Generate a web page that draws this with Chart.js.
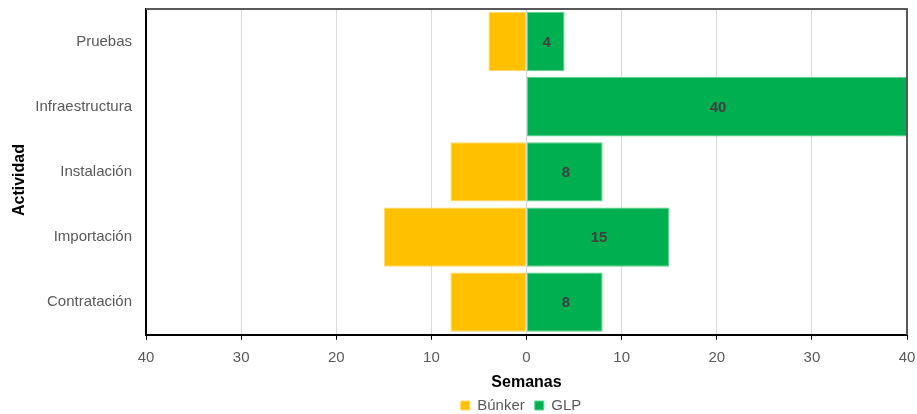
<!DOCTYPE html>
<html>
<head>
<meta charset="utf-8">
<script src="https://cdn.jsdelivr.net/npm/chart.js@4"></script>
<style>
  html, body { margin: 0; padding: 0; background: #fff; }
  #wrap { width: 917px; height: 414px; }
</style>
</head>
<body>
<div id="wrap"><canvas id="chart" width="917" height="414"></canvas></div>
<script>
// Datos
const actividades = ['Pruebas', 'Infraestructura', 'Instalación', 'Importación', 'Contratación'];
const semanasBunker = [4, 0, 8, 15, 8];
const semanasGLP    = [4, 40, 8, 15, 8];
const ticksSemanas  = [-40, -30, -20, -10, 0, 10, 20, 30, 40];

const FONT = "'Liberation Sans', Arial, sans-serif";

// Borde superior/derecho del área de trazado + título vertical
const marco = {
  id: 'marco',
  afterLayout(chart) {
    // leyenda centrada bajo el área de trazado, no bajo todo el lienzo
    const l = chart.legend;
    const d = 521 - (l.left + l.right) / 2;
    l.left += d;
    l.right += d;
  },
  afterDraw(chart) {
    const { ctx, chartArea: a } = chart;
    ctx.save();
    ctx.strokeStyle = '#595959';
    ctx.lineWidth = 2;
    ctx.beginPath();
    ctx.moveTo(a.left, a.top);
    ctx.lineTo(a.right, a.top);
    ctx.lineTo(a.right, a.bottom);
    ctx.stroke();

    ctx.translate(20, 180);
    ctx.rotate(-Math.PI / 2);
    ctx.font = 'bold 16px ' + FONT;
    ctx.fillStyle = '#000';
    ctx.textAlign = 'center';
    ctx.textBaseline = 'middle';
    ctx.fillText('Actividad', 0, 0);
    ctx.restore();
  }
};

// Etiquetas de valor en las barras de GLP
const etiquetas = {
  id: 'etiquetas',
  afterDatasetsDraw(chart) {
    const { ctx } = chart;
    const meta = chart.getDatasetMeta(1);
    ctx.save();
    ctx.font = 'bold 15px ' + FONT;
    ctx.fillStyle = '#404040';
    ctx.textAlign = 'center';
    ctx.textBaseline = 'middle';
    meta.data.forEach((bar, i) => {
      const v = semanasGLP[i];
      if (!v) return;
      ctx.fillText(String(v), (bar.x + bar.base) / 2 + 1, bar.y + 1);
    });
    ctx.restore();
  }
};

new Chart(document.getElementById('chart'), {
  type: 'bar',
  data: {
    labels: actividades,
    datasets: [
      { label: 'Búnker', data: semanasBunker.map(v => -v), backgroundColor: '#FFC000',
        borderColor: '#FFD966', borderWidth: 1, borderSkipped: false },
      { label: 'GLP', data: semanasGLP, backgroundColor: '#00B050',
        borderColor: '#5FD38D', borderWidth: 1, borderSkipped: false },
    ],
  },
  options: {
    indexAxis: 'y',
    responsive: false,
    animation: false,
    devicePixelRatio: 1,
    layout: { padding: { top: 9, right: 0, left: 0, bottom: -9 } },
    datasets: { bar: { barPercentage: 0.91, categoryPercentage: 1 } },
    scales: {
      x: {
        stacked: true,
        min: -40, max: 40,
        afterBuildTicks: s => { s.ticks = ticksSemanas.map(v => ({ value: v })); },
        afterFit: s => { s.paddingRight = 10; },
        ticks: { callback: v => Math.abs(v), color: '#595959', font: { family: FONT, size: 15 }, padding: 9 },
        grid: { color: '#d9d9d9', lineWidth: 1, tickLength: 5, tickColor: '#000' },
        border: { color: '#000', width: 2 },
        title: { display: true, text: 'Semanas', color: '#000', font: { family: FONT, size: 16, weight: 'bold' }, padding: { top: -3, bottom: -4 } },
      },
      y: {
        stacked: true,
        afterFit: s => { s.width = 146; },
        ticks: { color: '#595959', font: { family: FONT, size: 15 }, padding: 0 },
        grid: { display: true, drawOnChartArea: false, tickLength: 14, tickColor: 'rgba(0,0,0,0)', color: 'rgba(0,0,0,0)' },
        border: { color: '#000', width: 2 },
      },
    },
    plugins: {
      legend: {
        position: 'bottom',
        labels: { color: '#595959', font: { family: FONT, size: 15 }, boxWidth: 9, boxHeight: 9, padding: 10 },
      },
      tooltip: { enabled: false },
    },
  },
  plugins: [marco, etiquetas],
});
</script>
</body>
</html>
